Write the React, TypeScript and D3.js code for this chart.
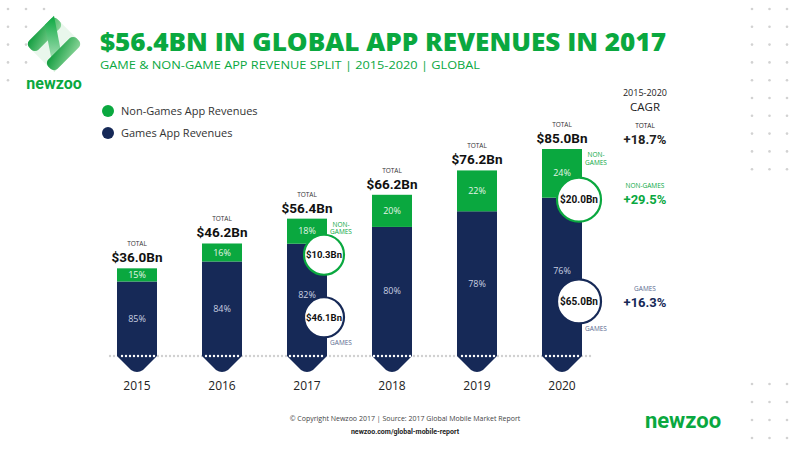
import React from "react";
import * as d3 from "d3";

const years = ["2015", "2016", "2017", "2018", "2019", "2020"];
const totals = [36.0, 46.2, 56.4, 66.2, 76.2, 85.0];
const nonGames = [5.4, 7.4, 10.3, 13.2, 16.8, 20.0];
const games = [30.6, 38.8, 46.1, 53.0, 59.4, 65.0];
const nonGamesShare = ["15%", "16%", "18%", "20%", "22%", "24%"];
const gamesShare = ["85%", "84%", "82%", "80%", "78%", "76%"];
const totalLabels = ["$36.0Bn", "$46.2Bn", "$56.4Bn", "$66.2Bn", "$76.2Bn", "$85.0Bn"];

// called-out years
const calloutYears = ["2017", "2020"];
const calloutNonGames = ["$10.3Bn", "$20.0Bn"];
const calloutGames = ["$46.1Bn", "$65.0Bn"];

const cagrLabels = ["TOTAL", "NON-GAMES", "GAMES"];
const cagrValues = ["+18.7%", "+29.5%", "+16.3%"];

const GREEN = "#0aa83f";
const NAVY = "#162957";
const FONT = "'Open Sans', 'Noto Sans', sans-serif";
const BOLD = "Roboto, 'Open Sans', sans-serif";

const W = 800;
const H = 450;
const barW = 40;

const App: React.FC = () => {
  const x = d3.scalePoint<string>().domain(years).range([137, 562]);
  const y = d3.scaleLinear().domain([0, 85]).range([356, 149]);
  const base = y(0);

  const barPath = (cx: number, top: number) => {
    const l = cx - barW / 2;
    const r = cx + barW / 2;
    const p = d3.path();
    p.moveTo(l, top);
    p.lineTo(r, top);
    p.lineTo(r, base);
    p.lineTo(cx + 6, base + 14);
    p.quadraticCurveTo(cx, base + 18, cx - 6, base + 14);
    p.lineTo(l, base);
    p.closePath();
    return p.toString();
  };

  // baseline dots
  const dots = d3.range(110, 592, 4);
  const inBar = (dx: number) =>
    years.some((yr) => Math.abs(dx - (x(yr) as number)) < barW / 2 - 1);

  // corner dot patterns
  const cornerDots: [number, number][] = [];
  const leftCols = [8, 26, 44];
  const leftCounts = [3, 2, 2, 2, 1];
  leftCounts.forEach((n, i) => {
    for (let j = 0; j < n; j++) cornerDots.push([leftCols[j], 9 + i * 17.8]);
  });
  const rightCols = [752, 769.5, 787];
  for (let i = 0; i < 10; i++) rightCols.forEach((c) => cornerDots.push([c, 9 + i * 17.8]));
  for (let i = 0; i < 4; i++) rightCols.forEach((c) => cornerDots.push([c, 384 + i * 18]));

  return (
    <svg width={W} height={H} style={{ position: "absolute", left: 0, top: 0, background: "#fff" }}>
      <defs>
        <linearGradient id="lg1" x1="0" y1="0" x2="1" y2="1">
          <stop offset="0" stopColor="#0b9a3a" />
          <stop offset="1" stopColor="#8fd69c" />
        </linearGradient>
        <linearGradient id="lg2" x1="1" y1="0" x2="0" y2="1">
          <stop offset="0" stopColor="#0aa83f" />
          <stop offset="1" stopColor="#d6f0da" />
        </linearGradient>
      </defs>
      <rect width={W} height={H} fill="#fff" />

      {cornerDots.map(([cx, cy], i) => (
        <circle key={"cd" + i} cx={cx} cy={cy} r={1.3} fill="#d2d2d2" />
      ))}

      {/* logo */}
      <g transform="translate(54,44) rotate(-45)">
        <rect x={-20} y={-20} width={40} height={40} rx={6} fill="#e9f7ec" />
        <rect x={-20} y={-20} width={40} height={13} rx={5} fill="url(#lg1)" />
        <polygon points="7,-20 20,-20 -7,20 -20,20" fill="url(#lg2)" />
        <rect x={-20} y={7} width={40} height={13} rx={5} fill="url(#lg1)" />
      </g>
      <text x={54} y={89} textAnchor="middle" fontFamily={BOLD} fontWeight={700} fontSize={16} fill={GREEN}>
        newzoo
      </text>

      {/* title */}
      <text x={100} y={51} fontFamily={FONT} fontWeight={800} fontSize={25} fill={GREEN} textLength={566} lengthAdjust="spacingAndGlyphs">
        $56.4BN IN GLOBAL APP REVENUES IN 2017
      </text>
      <text x={100} y={69} fontFamily={FONT} fontSize={10.5} fill={GREEN} textLength={380} lengthAdjust="spacingAndGlyphs">
        GAME &amp; NON-GAME APP REVENUE SPLIT | 2015-2020 | GLOBAL
      </text>

      {/* legend */}
      <circle cx={108} cy={111} r={6} fill={GREEN} />
      <text x={121} y={115} fontFamily={FONT} fontSize={11} fill="#333">
        Non-Games App Revenues
      </text>
      <circle cx={108} cy={133} r={6} fill={NAVY} />
      <text x={121} y={137} fontFamily={FONT} fontSize={11} fill="#333">
        Games App Revenues
      </text>

      {/* baseline dots */}
      {dots.map((dx) =>
        inBar(dx) ? null : <circle key={"bd" + dx} cx={dx} cy={base} r={1.2} fill="#d0d0d0" />
      )}

      {/* bars */}
      {years.map((yr, i) => {
        const cx = x(yr) as number;
        const top = y(totals[i]);
        const split = y(games[i]);
        const callout = calloutYears.includes(yr);
        return (
          <g key={yr}>
            <path d={barPath(cx, split)} fill={NAVY} />
            <rect x={cx - barW / 2} y={top} width={barW} height={split - top} fill={GREEN} />
            <text x={cx} y={(top + split) / 2 + 3} textAnchor="middle" fontFamily={FONT} fontSize={9} fill="#e3f4e6">
              {nonGamesShare[i]}
            </text>
            <text
              x={cx}
              y={split + (base - split) * (callout ? 0.46 : 0.5) + 3}
              textAnchor="middle"
              fontFamily={FONT}
              fontSize={9}
              fill="#c9cfe0"
            >
              {gamesShare[i]}
            </text>
            <text x={cx} y={top - 22} textAnchor="middle" fontFamily={FONT} fontSize={6.5} fill="#333">
              TOTAL
            </text>
            <text x={cx} y={top - 6} textAnchor="middle" fontFamily={BOLD} fontWeight={700} fontSize={13.5} fill="#111">
              {totalLabels[i]}
            </text>
            <text x={cx} y={base + 34} textAnchor="middle" fontFamily={FONT} fontSize={12} fill="#222">
              {yr}
            </text>
          </g>
        );
      })}

      {dots.map((dx) =>
        inBar(dx) ? <circle key={"wd" + dx} cx={dx} cy={base} r={1.2} fill="#fff" /> : null
      )}

      {/* callouts */}
      {calloutYears.map((yr, k) => {
        const i = years.indexOf(yr);
        const cx = (x(yr) as number) + 17;
        const r = k === 0 ? 20 : 22;
        const ngY = y(games[i]) + (k === 0 ? 11 : 2);
        const gY = y(games[i] * 0.345);
        const fs = k === 0 ? 9.5 : 10;
        return (
          <g key={"co" + yr}>
            <circle cx={cx} cy={ngY} r={r} fill="#fff" stroke={GREEN} strokeWidth={2.2} />
            <text x={cx} y={ngY + 3.5} textAnchor="middle" fontFamily={BOLD} fontWeight={700} fontSize={fs} fill="#111">
              {calloutNonGames[k]}
            </text>
            <circle cx={cx} cy={gY} r={r} fill="#fff" stroke={NAVY} strokeWidth={2.2} />
            <text x={cx} y={gY + 3.5} textAnchor="middle" fontFamily={BOLD} fontWeight={700} fontSize={fs} fill="#111">
              {calloutGames[k]}
            </text>
            <text x={cx + 17} y={y(totals[i]) + 8} textAnchor="middle" fontFamily={FONT} fontSize={6.5} fill={GREEN}>
              <tspan x={cx + 17}>NON-</tspan>
              <tspan x={cx + 17} dy={7.5}>GAMES</tspan>
            </text>
            <text x={cx + 17} y={gY + r + 8} textAnchor="middle" fontFamily={FONT} fontSize={6.5} fill="#5a6a90">
              GAMES
            </text>
          </g>
        );
      })}

      {/* CAGR column */}
      <text x={645} y={96} textAnchor="middle" fontFamily={FONT} fontSize={9} fill="#222">
        2015-2020
      </text>
      <text x={645} y={111} textAnchor="middle" fontFamily={FONT} fontSize={11.5} fill="#222">
        CAGR
      </text>
      {cagrLabels.map((lab, i) => {
        const cy = [126, 186, 289][i];
        const col = ["#222", GREEN, NAVY][i];
        return (
          <g key={lab}>
            <text x={645} y={cy + 2} textAnchor="middle" fontFamily={FONT} fontSize={6.5} fill={i === 2 ? "#5a6a90" : col}>
              {lab}
            </text>
            <text x={645} y={cy + 18} textAnchor="middle" fontFamily={BOLD} fontWeight={700} fontSize={13} fill={col}>
              {cagrValues[i]}
            </text>
          </g>
        );
      })}

      {/* footer */}
      <text x={405} y={421} textAnchor="middle" fontFamily={FONT} fontSize={7} fill="#444">
        © Copyright Newzoo 2017 | Source: 2017 Global Mobile Market Report
      </text>
      <text x={405} y={434} textAnchor="middle" fontFamily={BOLD} fontWeight={700} fontSize={7} fill="#222">
        newzoo.com/global-mobile-report
      </text>
      <text x={683} y={428} textAnchor="middle" fontFamily={BOLD} fontWeight={700} fontSize={22} fill={GREEN}>
        newzoo
      </text>
    </svg>
  );
};

export default App;
